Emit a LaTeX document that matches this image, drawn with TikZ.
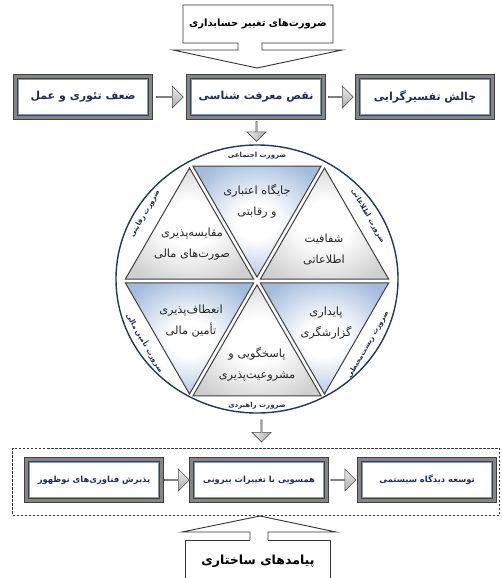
\documentclass[tikz,border=0pt]{standalone}
\usepackage{fontspec}
\usetikzlibrary{shapes.arrows,shapes.geometric,calc,shadows}
\TeXXeTstate=1
\newfontfamily\farsi[Script=Arabic]{DejaVu Sans}
\newcommand{\RL}[1]{\beginR #1\endR}
\definecolor{navy}{HTML}{1F2D5C}
\definecolor{framegray}{HTML}{858585}
\definecolor{steel}{HTML}{7F9CC0}
\definecolor{ringc}{HTML}{203864}
\definecolor{triblue}{HTML}{A3BBDC}
\definecolor{trigray}{HTML}{CFCFCF}
\pgfdeclareradialshading{rim}{\pgfpoint{0bp}{0bp}}{color(0bp)=(white); color(42bp)=(white); color(50bp)=(black!22)}
\pgfdeclareradialshading{tri}{\pgfpoint{0bp}{0bp}}{color(0bp)=(white); color(10bp)=(white); color(30bp)=(trigray); color(50bp)=(trigray)}
\pgfdeclareradialshading{trib}{\pgfpoint{0bp}{0bp}}{color(0bp)=(white); color(8bp)=(white); color(30bp)=(triblue); color(50bp)=(triblue)}
\begin{document}
\begin{tikzpicture}[x=1pt,y=-1pt,
  fbox/.style={draw=black!75, double=framegray, double distance=3.4pt, line width=0.7pt,
    fill=white, minimum width=135pt, minimum height=41pt, inner sep=2pt,
    font=\farsi\bfseries\fontsize{11}{13}\selectfont, text=navy,
    drop shadow={shadow xshift=1pt,shadow yshift=-1.5pt,opacity=0.35}},
  fboxs/.style={fbox, font=\farsi\bfseries\fontsize{8.4}{10}\selectfont},
  inline/.style={draw=steel, line width=0.6pt},
  barrow/.style={single arrow, draw=black!70, line width=0.6pt, top color=gray!15,
    bottom color=gray!65, minimum width=22pt, single arrow head extend=5pt,
    single arrow head indent=0pt, inner sep=0pt},
  darrow/.style={barrow, shape border rotate=270, minimum width=19pt, single arrow head extend=4.5pt, left color=gray!15, right color=gray!65},
  tblue/.style={draw=black!75, line width=1pt, shade, shading=trib},
  tgray/.style={draw=black!75, line width=1pt, shade, shading=tri},
  trilabel/.style={font=\farsi\fontsize{11.3}{21}\selectfont, text=black!85, align=center, inner sep=0pt},
  seglabel/.style={font=\farsi\bfseries\fontsize{7}{9}\selectfont, text=navy, inner sep=0pt},
  callout/.style={draw=black!80, line width=0.9pt},
]
\useasboundingbox (0,0) rectangle (501,578);

% top callout
\draw[callout, fill=white] (238,43) -- (183,43) -- (183,5) -- (333,5) -- (333,43) -- (262,43)
  -- (262,50) -- (342,50) -- (257,68) -- (173,50) -- (238,50) -- cycle;
\node[font=\farsi\bfseries\fontsize{10}{12}\selectfont, text=black] (need) at (258,24) {\RL{ضرورت‌های تغییر حسابداری}};

% row 1
\node[fbox] (b1) at (83,97) {\RL{ضعف تئوری و عمل}};
\node[fbox] (b2) at (256,97) {\RL{نقص معرفت شناسی}};
\node[fbox] (b3) at (425,97) {\RL{چالش تفسیرگرایی}};
\node[barrow, minimum height=27pt] (a1) at ($(b1.east)!0.5!(b2.west)$) {};
\node[barrow, minimum height=25pt] (a2) at ($(b2.east)!0.5!(b3.west)$) {};

% circle
\node[ellipse, draw=ringc, line width=1.4pt, shade, shading=rim, minimum width=282pt,
  minimum height=268pt, inner sep=0pt] (circ) at (257,279) {};
\node[darrow, minimum height=20pt] (d1) at ($(b2.south)!0.5!(circ.north)$) {};

\coordinate (C) at (257,281);
\coordinate (V0) at (392,281);
\coordinate (V1) at (324.5,164.1);
\coordinate (V2) at (189.5,164.1);
\coordinate (V3) at (122,281);
\coordinate (V4) at (189.5,397.9);
\coordinate (V5) at (324.5,397.9);
\foreach \p/\q/\r/\s [count=\k] in {C/V2/V1/tblue, C/V3/V2/tgray, C/V4/V3/tblue, C/V5/V4/tgray, C/V0/V5/tblue, C/V1/V0/tgray}{
  \coordinate (G\k) at (barycentric cs:\p=1,\q=1,\r=1);
  \path[\s] ($(G\k)!0.95!(\p)$) -- ($(G\k)!0.95!(\q)$) -- ($(G\k)!0.95!(\r)$) -- cycle;
}

\node[trilabel] (t1) at (257,201) {\RL{جایگاه اعتباری}\\\RL{و رقابتی}};
\node[trilabel] (t2) at (192,244) {\RL{مقایسه‌پذیری}\\\RL{صورت‌های مالی}};
\node[trilabel] (t3) at (324,249) {\RL{شفافیت}\\\RL{اطلاعاتی}};
\node[trilabel] (t4) at (191,321) {\RL{انعطاف‌پذیری}\\\RL{تأمین مالی}};
\node[trilabel] (t5) at (326,323) {\RL{پایداری}\\\RL{گزارشگری}};
\node[trilabel] (t6) at (257,364) {\RL{پاسخگویی و}\\\RL{مشروعیت‌پذیری}};

\node[seglabel] (s1) at (257,156) {\RL{ضرورت اجتماعی}};
\node[seglabel, rotate=60] (s2) at (145,214) {\RL{ضرورت رقابتی}};
\node[seglabel, rotate=-60] (s3) at (368,216) {\RL{ضرورت اطلاعاتی}};
\node[seglabel, rotate=-60] (s4) at (145,343) {\RL{ضرورت تأمین مالی}};
\node[seglabel, rotate=60] (s5) at (368,345) {\RL{ضرورت زیست‌محیطی}};
\node[seglabel] (s6) at (257,406) {\RL{ضرورت راهبردی}};

% bottom group
\node[draw=black!80, dashed, line width=0.9pt, dash pattern=on 2.5pt off 1.5pt,
  minimum width=487pt, minimum height=67pt, inner sep=0pt] (grp) at (256,481.5) {};
\node[darrow, minimum height=22pt] (d2) at ($(circ.south)!0.5!(grp.north)+(5,0)$) {};
\node[fboxs] (c1) at (94,480) {\RL{پذیرش فناوری‌های نوظهور}};
\node[fboxs] (c2) at (259,480) {\RL{همسویی با تغییرات بیرونی}};
\node[fboxs] (c3) at (427,480) {\RL{توسعه دیدگاه سیستمی}};
\node[barrow, minimum height=25pt] (a3) at ($(c1.east)!0.5!(c2.west)$) {};
\node[barrow, minimum height=25pt] (a4) at ($(c2.east)!0.5!(c3.west)$) {};

\foreach \n in {b1,b2,b3,c1,c2,c3}
  \draw[inline] ([xshift=3.6pt,yshift=-3.6pt]\n.north west) rectangle ([xshift=-3.6pt,yshift=3.6pt]\n.south east);

% bottom callout
\draw[callout] (250,540) -- (185,540) -- (185,578);
\draw[callout] (268,540) -- (330,540) -- (330,578);
\draw[callout] (250,540) -- (250,532) -- (182,532) -- (260,516) -- (336,532) -- (268,532) -- (268,540);
\node[font=\farsi\bfseries\fontsize{12.5}{15}\selectfont, text=black] (outc) at (258,561) {\RL{پیامدهای ساختاری}};
\end{tikzpicture}
\end{document}
